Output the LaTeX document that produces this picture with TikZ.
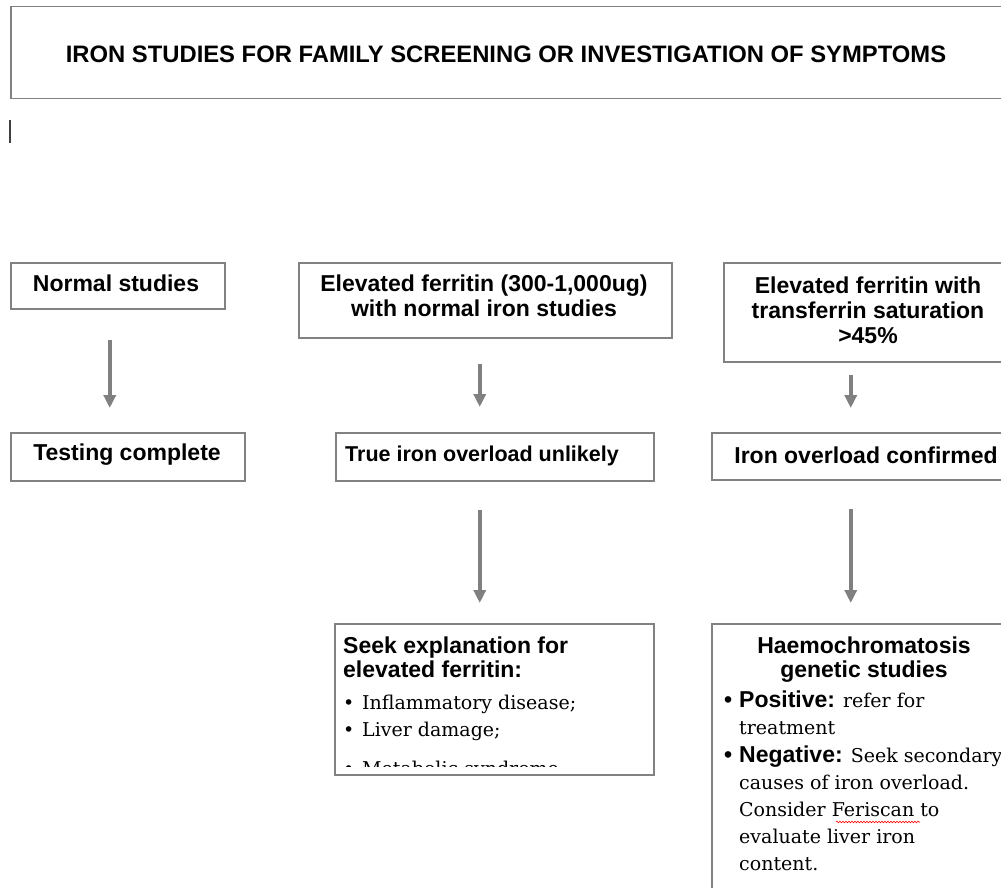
\documentclass[tikz,border=0pt]{standalone}
\usepackage{fontspec}
\setmainfont{DejaVu Serif}
\newfontfamily\headfont{Liberation Sans}
\usetikzlibrary{arrows.meta,decorations.pathmorphing}
\definecolor{boxgray}{RGB}{130,130,130}
\definecolor{arrowgray}{RGB}{128,128,128}
\begin{document}
\begin{tikzpicture}[x=1pt,y=-1pt,
  box/.style={draw=boxgray, line width=1.5pt, anchor=north west, inner sep=0pt},
  head/.style={inner sep=0pt, anchor=base, font=\headfont\bfseries\fontsize{23}{26}\selectfont},
  headl/.style={head, anchor=base west},
  body/.style={inner sep=0pt, anchor=base west, font=\fontsize{19}{27}\selectfont},
  arr/.style={draw=arrowgray, line width=4pt, -{Triangle[width=12pt,length=13pt]}}]
\useasboundingbox (0,0) rectangle (1001,888);
\clip (0,0) rectangle (1001,888);

% Nadpis
\node[box, minimum width=1000pt, minimum height=92pt] (title) at (10,6) {};
\node[head, font=\headfont\bfseries\fontsize{23.8}{26}\selectfont] (titletext) at (506,63) {IRON STUDIES FOR FAMILY SCREENING OR INVESTIGATION OF SYMPTOMS};
\draw[line width=1.5pt, black!75] (10,120) -- (10,143);

% Prvni rada
\node[box, minimum width=214pt, minimum height=46pt] (normal) at (10,262) {};
\node[head] (normaltext) at (116,291) {Normal studies};
\node[box, minimum width=373pt, minimum height=75pt] (elevated) at (298,262) {};
\node[head] (elevtexta) at (484,291) {Elevated ferritin (300-1,000ug)};
\node[head] (elevtextb) at (484,316) {with normal iron studies};
\node[box, minimum width=290pt, minimum height=99pt] (transf) at (723,262) {};
\node[head] (transftexta) at (868,293) {Elevated ferritin with};
\node[head] (transftextb) at (868,318) {transferrin saturation};
\node[head] (transftextc) at (868,343) {>45\%};

% Druha rada
\node[box, minimum width=234pt, minimum height=48pt] (testing) at (10,432) {};
\node[head] (testingtext) at (127,460) {Testing complete};
\node[box, minimum width=318pt, minimum height=48pt] (unlikely) at (335,432) {};
\node[headl, font=\headfont\bfseries\fontsize{21.5}{24}\selectfont] (unlikelytext) at (345,461) {True iron overload unlikely};
\node[box, minimum width=310pt, minimum height=47pt] (confirmed) at (711,432) {};
\node[head] (confirmedtext) at (866,463) {Iron overload confirmed};

% Vysvetleni
\node[box, minimum width=319pt, minimum height=151pt] (seek) at (334,623) {};
\begin{scope}
\clip (seek.north west) rectangle ([yshift=9pt]seek.south east);
\node[headl] (seeka) at (343,653) {Seek explanation for};
\node[headl] (seekb) at (343,677) {elevated ferritin:};
\node[body] (seekc) at (343,709) {•};
\node[body] (seekd) at (362,709) {Inflammatory disease;};
\node[body] (seeke) at (343,736) {•};
\node[body] (seekf) at (362,736) {Liver damage;};
\node[body] (seekg) at (343,775) {•};
\node[body] (seekh) at (362,775) {Metabolic syndrome};
\end{scope}

% Geneticke vysetreni
\node[box, minimum width=310pt, minimum height=300pt] (haemo) at (711,623) {};
\node[head] (haemoa) at (864,653) {Haemochromatosis};
\node[head] (haemob) at (864,677) {genetic studies};
\node[headl] (haemoc) at (724,707) {•};
\node[body] (haemod) at (739,707) {{\headfont\bfseries\fontsize{23}{26}\selectfont Positive:} refer for};
\node[body] (haemoe) at (739,734) {treatment};
\node[headl] (haemof) at (724,762) {•};
\node[body] (haemog) at (739,762) {{\headfont\bfseries\fontsize{23}{26}\selectfont Negative:} Seek secondary};
\node[body] (haemoh) at (739,789) {causes of iron overload.};
\node[body] (haemoi) at (739,816) {Consider Feriscan to};
\node[body] (haemoj) at (739,843) {evaluate liver iron};
\node[body] (haemok) at (739,870) {content.};
\draw[red, line width=0.6pt, decorate, decoration={snake, amplitude=0.8pt, segment length=3pt}] (836,822) -- (920,822);

% Sipky
\draw[arr, shorten <=30pt, shorten >=24pt] ([xshift=-8pt]normal.south) -- ([xshift=-8pt]normal.south |- testing.north);
\draw[arr, shorten <=25pt, shorten >=25pt] ([xshift=-5.5pt]elevated.south) -- ([xshift=-5.5pt]elevated.south |- unlikely.north);
\draw[arr, shorten <=12pt, shorten >=24pt] ([xshift=-18pt]transf.south) -- ([xshift=-18pt]transf.south |- confirmed.north);
\draw[arr, shorten <=28pt, shorten >=20pt] ([xshift=-15pt]unlikely.south) -- ([xshift=-15pt]unlikely.south |- seek.north);
\draw[arr, shorten <=28pt, shorten >=20pt] ([xshift=-16pt]confirmed.south) -- ([xshift=-16pt]confirmed.south |- haemo.north);
\end{tikzpicture}
\end{document}
